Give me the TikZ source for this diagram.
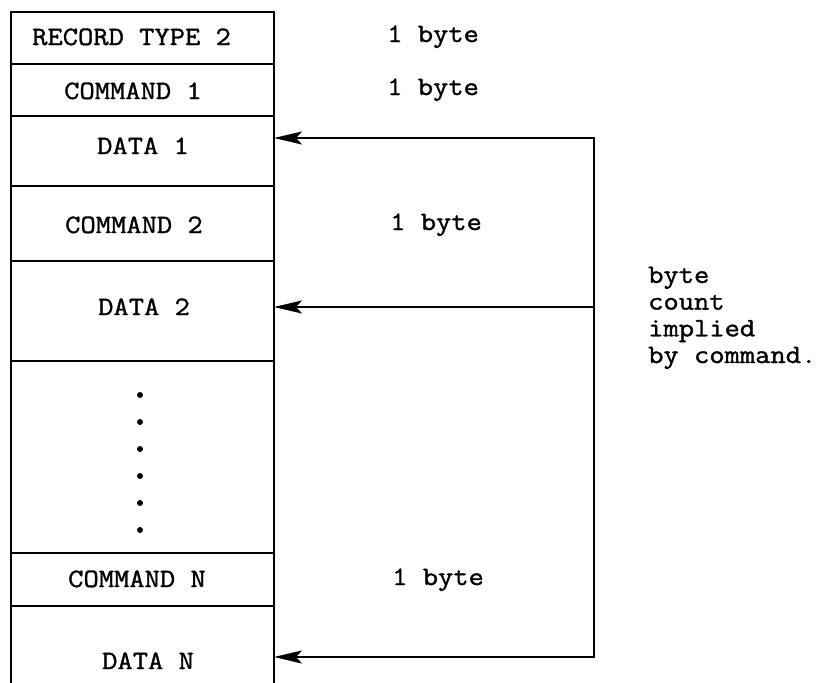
\documentclass[tikz,border=0pt]{standalone}
\usepackage{fontspec}
\newfontfamily\typewr{Latin Modern Mono}[FakeStretch=1.12,FakeBold=1.3]
\usetikzlibrary{arrows.meta}
\begin{document}
\begin{tikzpicture}[x=1pt,y=-1pt,
  cell/.style={draw,line width=2.6pt,minimum width=263pt,inner sep=0pt,outer sep=0pt,anchor=north west},
  lab/.style={font=\typewr\fontsize{26.5}{26.5}\selectfont,inner sep=0pt,anchor=base west},
  note/.style={font=\typewr\fontsize{26.5}{26.7}\selectfont,inner sep=0pt,anchor=base west,align=left},
  conn/.style={line width=2.4pt,-{Stealth[length=28pt,width=13pt,inset=6pt]}},
  rail/.style={line width=2.4pt,line cap=rect},
  dotmark/.style={fill=black}]
\useasboundingbox (0,0) rectangle (825,683);
% cells of the record
\node[cell,minimum height=52pt]  (r0) at (11,12)  {};
\node[cell,minimum height=52pt]  (r1) at (11,64)  {};
\node[cell,minimum height=70pt]  (r2) at (11,116) {};
\node[cell,minimum height=75pt]  (r3) at (11,186) {};
\node[cell,minimum height=100pt] (r4) at (11,261) {};
\node[cell,minimum height=192pt] (r5) at (11,361) {};
\node[cell,minimum height=53pt]  (r6) at (11,553) {};
\node[cell,minimum height=114pt] (r7) at (11,606) {};
% cell texts
\node[lab] (l0) at (32,45)  {RECORD TYPE 2};
\node[lab] (l1) at (64,99)  {COMMAND 1};
\node[lab] (l2) at (97,154) {DATA 1};
\node[lab] (l3) at (65,233) {COMMAND 2};
\node[lab] (l4) at (98,315) {DATA 2};
\node[lab] (l6) at (68,587) {COMMAND N};
\node[lab] (l7) at (102,669) {DATA N};
% dots
\foreach \k in {0,...,5} \fill[dotmark] (140,395+27*\k) circle (3pt);
% byte notes
\node[lab] (b0) at (387,42)  {1 byte};
\node[lab] (b1) at (387,95)  {1 byte};
\node[lab] (b3) at (390,230) {1 byte};
\node[lab] (b6) at (392,585) {1 byte};
\node[note] (nt) at (648,363) {byte\\count\\implied\\by command.};
% connectors
\coordinate (t1) at (594,138);
\coordinate (t2) at (594,307);
\coordinate (t3) at (594,657);
\draw[rail] (t1) -- (t3);
\draw[conn] (t1) -- (r2.east |- t1);
\draw[conn] (t2) -- (r4.east |- t2);
\draw[conn] (t3) -- (r7.east |- t3);
\end{tikzpicture}
\end{document}
